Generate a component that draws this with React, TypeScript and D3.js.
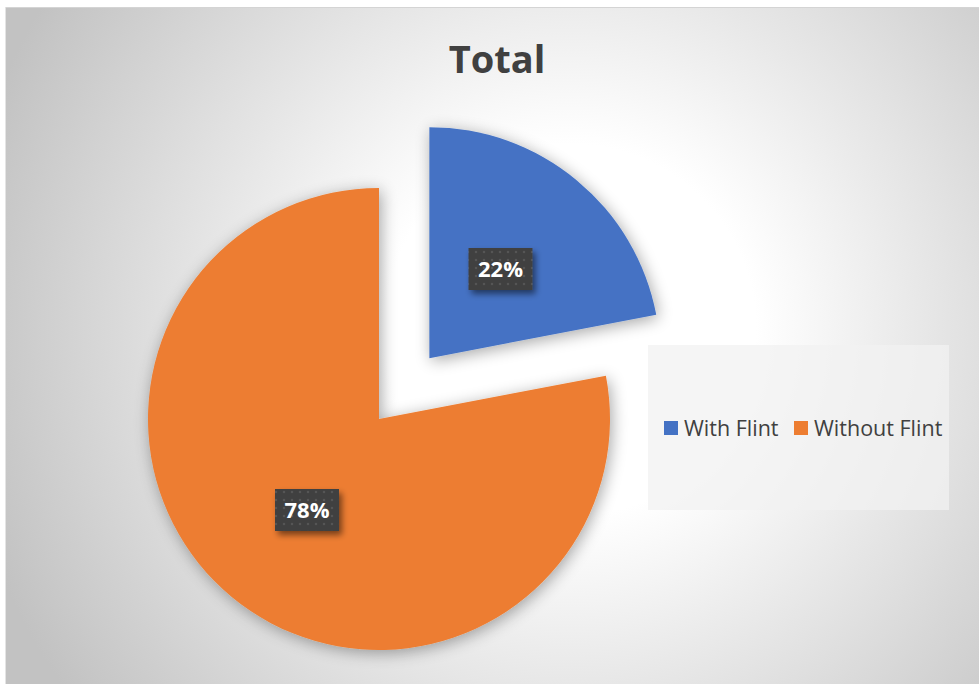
import React from "react";
import * as d3 from "d3";

const categories = ["With Flint", "Without Flint"];
const values = [22, 78];
const colors = ["#4472C4", "#ED7D31"];
const title = "Total";

const W = 979;
const H = 684;
const cx = 379;
const cy = 419;
const radius = 231;
const explode = 79;

const App = () => {
  const pie = d3.pie<number>().sort(null).value((d) => d);
  const arcs = pie(values);
  const arc = d3.arc<d3.PieArcDatum<number>>().innerRadius(0).outerRadius(radius);
  const total = d3.sum(values);
  const fmt = d3.format(".0%");

  // exploded offset for the first slice only
  const offsetOf = (d: d3.PieArcDatum<number>, i: number) => {
    if (i !== 0) return [0, 0];
    const mid = (d.startAngle + d.endAngle) / 2;
    return [Math.sin(mid) * explode, -Math.cos(mid) * explode];
  };

  // label centres, as placed in the original
  const labelPos = [
    [500.5, 269],
    [307, 510],
  ];

  return (
    <svg
      width={W}
      height={H}
      style={{ position: "absolute", left: 0, top: 0 }}
    >
      <defs>
        <radialGradient id="bg" cx="570" cy="330" r="620" gradientUnits="userSpaceOnUse">
          <stop offset="0" stopColor="#ffffff" />
          <stop offset="0.3" stopColor="#ffffff" />
          <stop offset="1" stopColor="#c2c2c2" />
        </radialGradient>
        <filter id="shadow" x="-20%" y="-20%" width="140%" height="140%">
          <feGaussianBlur in="SourceAlpha" stdDeviation="8" />
          <feOffset dx="2" dy="3" result="b" />
          <feComponentTransfer>
            <feFuncA type="linear" slope="0.35" />
          </feComponentTransfer>
          <feMerge>
            <feMergeNode />
            <feMergeNode in="SourceGraphic" />
          </feMerge>
        </filter>
        <filter id="lblShadow" x="-30%" y="-30%" width="160%" height="170%">
          <feGaussianBlur in="SourceAlpha" stdDeviation="3" />
          <feOffset dx="3" dy="4" />
          <feComponentTransfer>
            <feFuncA type="linear" slope="0.5" />
          </feComponentTransfer>
          <feMerge>
            <feMergeNode />
            <feMergeNode in="SourceGraphic" />
          </feMerge>
        </filter>
        <pattern id="dots" width="8" height="8" patternUnits="userSpaceOnUse">
          <rect width="8" height="8" fill="#3f3f3f" />
          <circle cx="4" cy="4" r="1.3" fill="#555555" />
        </pattern>
      </defs>

      <rect x={0} y={0} width={W} height={H} fill="#ffffff" />
      <rect x={5} y={7} width={W - 5} height={H - 7} fill="url(#bg)" />
      <line x1={5} y1={7.5} x2={W} y2={7.5} stroke="#d4d4d4" />
      <line x1={5.5} y1={7} x2={5.5} y2={H} stroke="#e4e4e4" />

      <text
        x={497}
        y={73}
        textAnchor="middle"
        fontFamily="'Open Sans', sans-serif"
        fontWeight="bold"
        fontSize={38}
        fill="#404040"
      >
        {title}
      </text>

      <g filter="url(#shadow)">
        {arcs.map((d, i) => {
          const [ox, oy] = offsetOf(d, i);
          return (
            <path
              key={categories[i]}
              d={arc(d) || ""}
              transform={`translate(${cx + ox},${cy + oy})`}
              fill={colors[i]}
            />
          );
        })}
      </g>

      {arcs.map((d, i) => {
        const [x, y] = labelPos[i];
        return (
          <g key={"lbl" + i}>
            <rect
              x={x - 32}
              y={y - 21}
              width={64}
              height={42}
              fill="url(#dots)"
              filter="url(#lblShadow)"
            />
            <text
              x={x}
              y={y + 8}
              textAnchor="middle"
              fontFamily="'Open Sans', sans-serif"
              fontWeight="bold"
              fontSize={22}
              fill="#ffffff"
            >
              {fmt(d.value / total)}
            </text>
          </g>
        );
      })}

      <rect x={648} y={345} width={301} height={165} fill="#f2f2f2" fillOpacity={0.75} />
      {categories.map((c, i) => {
        const lx = i === 0 ? 664 : 794;
        return (
          <g key={c}>
            <rect x={lx} y={421} width={14} height={14} fill={colors[i]} />
            <text
              x={lx + 20}
              y={436}
              fontFamily="'Open Sans', sans-serif"
              fontSize={21.5}
              fill="#404040"
            >
              {c}
            </text>
          </g>
        );
      })}
    </svg>
  );
};

export default App;
